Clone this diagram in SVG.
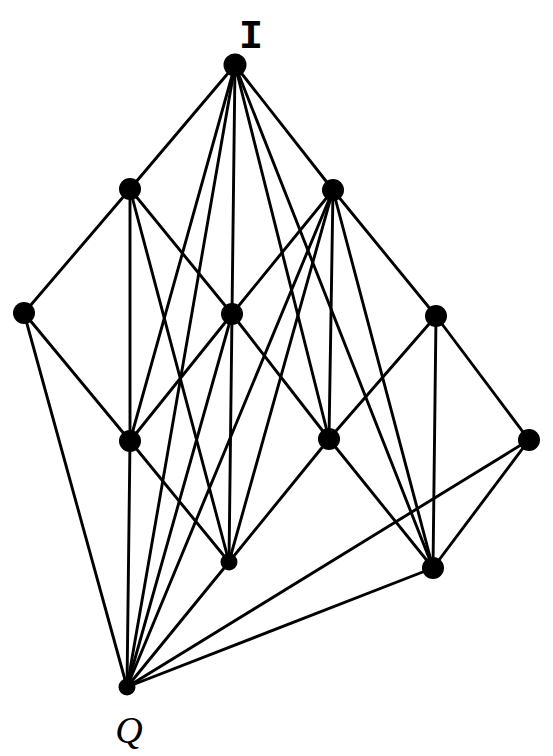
<svg xmlns="http://www.w3.org/2000/svg" width="553" height="756" viewBox="0 0 553 756">
<style>
.e{stroke:#000;stroke-width:2.9;stroke-linecap:round;fill:none}
.n{fill:#000}
.lbl{font-family:"Liberation Mono",monospace;fill:#000}
.q{font-family:"Liberation Serif",serif;font-style:italic;fill:#000}
</style>
<rect width="553" height="756" fill="#fff"/>
<g id="connectors" class="e">
<line x1="235" y1="65" x2="130" y2="189"/>
<line x1="235" y1="65" x2="333" y2="190"/>
<line x1="235" y1="65" x2="232" y2="314"/>
<line x1="235" y1="65" x2="130" y2="441"/>
<line x1="235" y1="65" x2="127" y2="687"/>
<line x1="235" y1="65" x2="329" y2="439"/>
<line x1="235" y1="65" x2="433" y2="568"/>
<line x1="130" y1="189" x2="24" y2="313"/>
<line x1="130" y1="189" x2="130" y2="441"/>
<line x1="130" y1="189" x2="232" y2="314"/>
<line x1="130" y1="189" x2="229" y2="562"/>
<line x1="333" y1="190" x2="436" y2="316"/>
<line x1="333" y1="190" x2="329" y2="439"/>
<line x1="333" y1="190" x2="232" y2="314"/>
<line x1="333" y1="190" x2="229" y2="562"/>
<line x1="333" y1="190" x2="127" y2="687"/>
<line x1="333" y1="190" x2="433" y2="568"/>
<line x1="24" y1="313" x2="130" y2="441"/>
<line x1="24" y1="313" x2="127" y2="687"/>
<line x1="232" y1="314" x2="130" y2="441"/>
<line x1="232" y1="314" x2="127" y2="687"/>
<line x1="232" y1="314" x2="229" y2="562"/>
<line x1="232" y1="314" x2="329" y2="439"/>
<line x1="436" y1="316" x2="329" y2="439"/>
<line x1="436" y1="316" x2="433" y2="568"/>
<line x1="436" y1="316" x2="529" y2="440"/>
<line x1="130" y1="441" x2="127" y2="687"/>
<line x1="130" y1="441" x2="229" y2="562"/>
<line x1="329" y1="439" x2="229" y2="562"/>
<line x1="329" y1="439" x2="433" y2="568"/>
<line x1="529" y1="440" x2="433" y2="568"/>
<line x1="529" y1="440" x2="127" y2="687"/>
<line x1="229" y1="562" x2="127" y2="687"/>
<line x1="433" y1="568" x2="127" y2="687"/>
</g>
<g id="node-I"><circle class="n" cx="235" cy="65" r="11.5"/><text class="lbl" x="251" y="48" font-size="40" font-weight="bold" text-anchor="middle">I</text></g>
<g id="node-A"><circle class="n" cx="130" cy="189" r="11"/></g>
<g id="node-B"><circle class="n" cx="333" cy="190" r="11"/></g>
<g id="node-C"><circle class="n" cx="24" cy="313" r="11"/></g>
<g id="node-D"><circle class="n" cx="232" cy="314" r="11"/></g>
<g id="node-E"><circle class="n" cx="436" cy="316" r="11"/></g>
<g id="node-F"><circle class="n" cx="130" cy="441" r="11"/></g>
<g id="node-G"><circle class="n" cx="329" cy="439" r="11"/></g>
<g id="node-H"><circle class="n" cx="529" cy="440" r="11"/></g>
<g id="node-J"><circle class="n" cx="229" cy="562" r="8.5"/></g>
<g id="node-K"><circle class="n" cx="433" cy="568" r="11"/></g>
<g id="node-Q"><circle class="n" cx="127" cy="687" r="8.5"/><text class="q" x="129" y="743" font-size="38" text-anchor="middle">Q</text></g>
</svg>
